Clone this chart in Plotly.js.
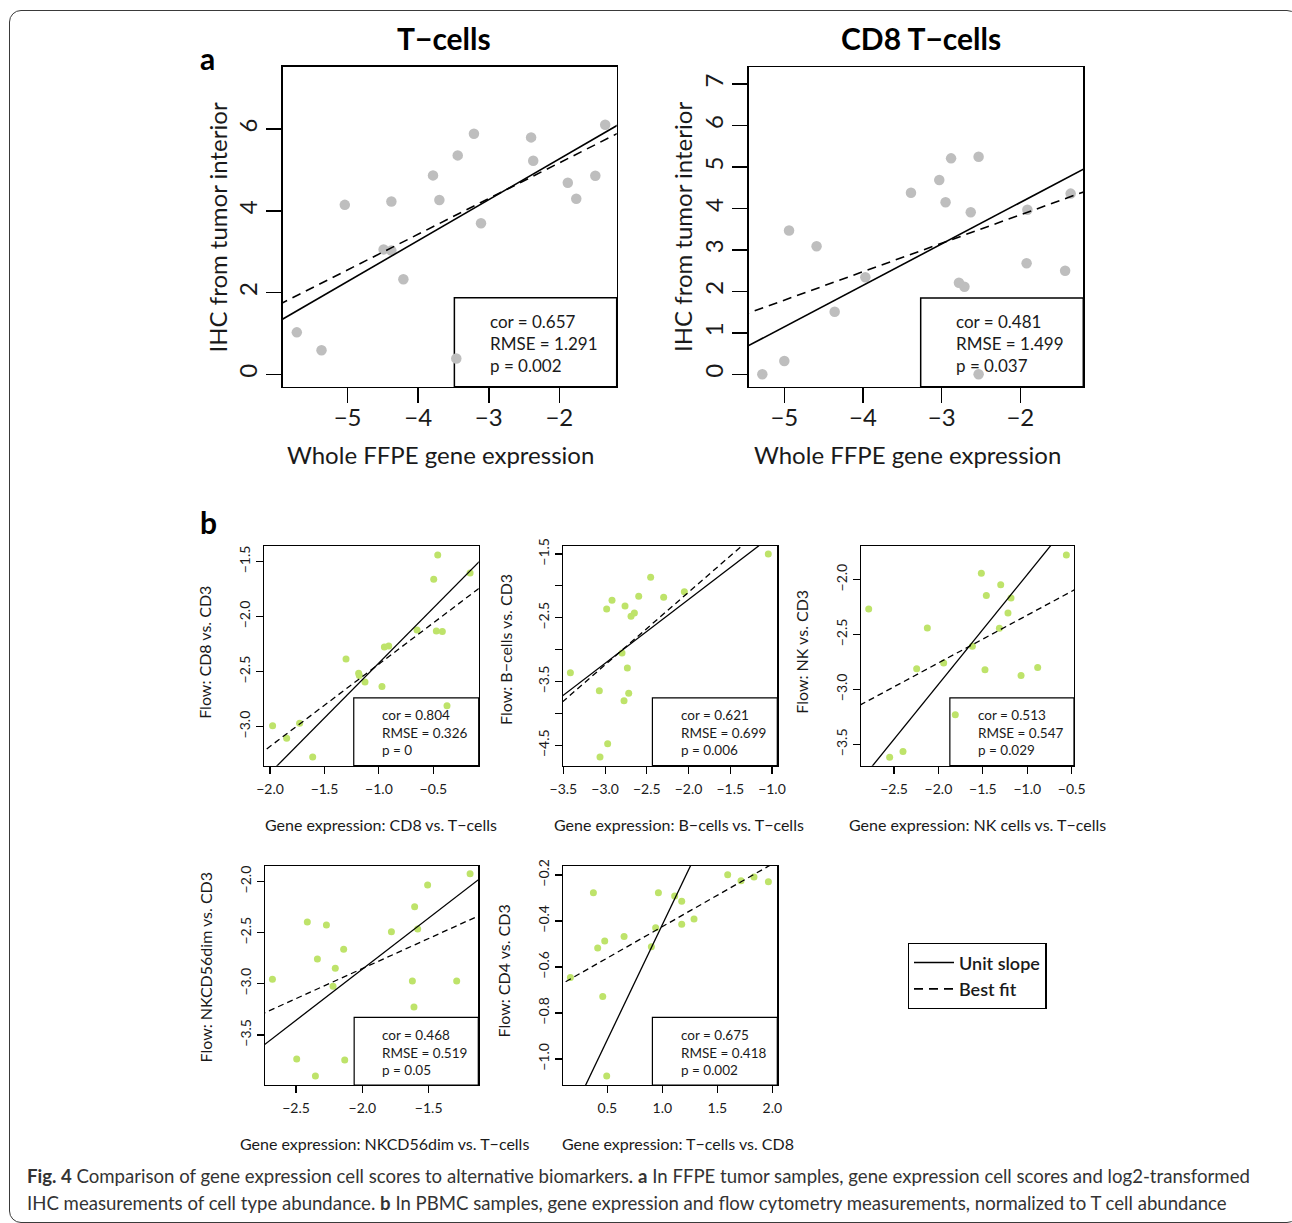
<!DOCTYPE html>
<html><head><meta charset="utf-8">
<script src="https://cdn.plot.ly/plotly-3.0.1.min.js"></script>
<style>
html,body{margin:0;padding:0;background:#fff;overflow:hidden;}
#wrap{position:relative;width:1292px;height:1223px;}
#chart{position:absolute;left:0;top:0;width:1292px;height:1223px;}
#frame{position:absolute;left:9px;top:10px;width:1290px;height:1213px;border:1.5px solid #3a3a3a;border-radius:12px;box-sizing:border-box;pointer-events:none;}
</style></head><body>
<div id="wrap"><div id="chart"></div><div id="frame"></div></div>
<script>
// ---------- data ----------
// a: T-cells
const tcellsGeneX = [-5.72,-5.37,-5.04,-4.49,-4.38,-4.38,-4.21,-3.79,-3.70,-3.44,-3.46,-3.21,-3.11,-2.40,-2.37,-1.88,-1.76,-1.49,-1.35];
const tcellsIhcY  = [1.03,0.59,4.15,3.06,3.03,4.23,2.33,4.87,4.27,5.36,0.39,5.89,3.70,5.80,5.23,4.69,4.30,4.86,6.11];
// a: CD8 T-cells
const cd8GeneX = [-5.28,-5.00,-4.94,-4.59,-4.36,-3.97,-3.39,-3.03,-2.95,-2.88,-2.78,-2.71,-2.63,-2.53,-2.53,-1.92,-1.91,-1.43,-1.36];
const cd8IhcY  = [0.00,0.32,3.47,3.09,1.51,2.34,4.38,4.69,4.15,5.21,2.21,2.11,3.91,5.25,0.00,2.68,3.97,2.50,4.36];
// b: CD8 vs T-cells
const cd8FlowGeneX = [-1.976,-1.847,-1.728,-1.608,-1.302,-1.186,-1.180,-1.128,-0.972,-0.950,-0.910,-0.650,-0.497,-0.460,-0.473,-0.418,-0.375,-0.163];
const cd8FlowY     = [-2.991,-3.106,-2.970,-3.276,-2.385,-2.515,-2.536,-2.594,-2.636,-2.276,-2.267,-2.121,-1.661,-1.439,-2.130,-2.136,-2.809,-1.603];
// b: B-cells vs T-cells
const bcellGeneX = [-3.416,-3.069,-3.061,-2.981,-2.969,-2.917,-2.797,-2.773,-2.761,-2.733,-2.717,-2.689,-2.649,-2.597,-2.454,-2.298,-2.050,-1.044];
const bcellFlowY = [-3.361,-3.643,-4.683,-2.363,-4.474,-2.227,-3.053,-3.800,-2.315,-3.288,-3.685,-2.478,-2.425,-2.164,-1.866,-2.180,-2.091,-1.500];
// b: NK cells vs T-cells
const nkGeneX = [-2.785,-2.549,-2.399,-2.245,-2.125,-1.941,-1.810,-1.618,-1.517,-1.476,-1.461,-1.299,-1.314,-1.217,-1.183,-1.070,-0.883,-0.560];
const nkFlowY = [-2.267,-3.616,-3.564,-2.811,-2.440,-2.759,-3.230,-2.607,-1.942,-2.820,-2.143,-2.046,-2.443,-2.304,-2.167,-2.872,-2.799,-1.775];
// b: NKCD56dim vs T-cells
const nkdimGeneX = [-2.678,-2.495,-2.415,-2.354,-2.339,-2.271,-2.204,-2.221,-2.141,-2.133,-1.781,-1.623,-1.611,-1.606,-1.583,-1.508,-1.289,-1.188];
const nkdimFlowY = [-2.955,-3.735,-2.395,-3.901,-2.756,-2.424,-2.848,-3.024,-2.662,-3.744,-2.489,-2.972,-3.226,-2.245,-2.463,-2.033,-2.972,-1.922];
// b: T-cells vs CD8 (CD4 flow)
const cd4GeneX = [0.164,0.373,0.412,0.458,0.476,0.494,0.652,0.900,0.939,0.964,1.112,1.176,1.176,1.288,1.594,1.715,1.833,1.964];
const cd4FlowY = [-0.646,-0.277,-0.517,-0.728,-0.487,-1.074,-0.468,-0.512,-0.429,-0.277,-0.291,-0.314,-0.414,-0.391,-0.199,-0.225,-0.209,-0.229];

// line parameters (unit slope: y = x + b ; best fit: y = m x + c)
const unitIntercepts = [7.275, 6.145, -1.421, -0.214, -0.953, -0.856, -1.416];
const fitSlopes      = [0.873, 0.686, 0.749, 1.138, 0.435, 0.588, 0.2725];
const fitIntercepts  = [6.923, 5.219, -1.682, 0.176, -1.888, -1.674, -0.697];

// statistics shown in each panel
const corVals  = ["0.657","0.481","0.804","0.621","0.513","0.468","0.675"];
const rmseVals = ["1.291","1.499","0.326","0.699","0.547","0.519","0.418"];
const pVals    = ["0.002","0.037","0","0.006","0.029","0.05","0.002"];

// texts
const panelTitles = ["T\u2212cells", "CD8 T\u2212cells"];
const xTitles = ["Whole FFPE gene expression","Whole FFPE gene expression",
  "Gene expression: CD8 vs. T\u2212cells","Gene expression: B\u2212cells vs. T\u2212cells",
  "Gene expression: NK cells vs. T\u2212cells","Gene expression: NKCD56dim vs. T\u2212cells",
  "Gene expression: T\u2212cells vs. CD8"];
const yTitles = ["IHC from tumor interior","IHC from tumor interior",
  "Flow: CD8 vs. CD3","Flow: B\u2212cells vs. CD3","Flow: NK vs. CD3",
  "Flow: NKCD56dim vs. CD3","Flow: CD4 vs. CD3"];
const bcellYTickVals = [-1.5,-2,-2.5,-3,-3.5,-4,-4.5];
const bcellYTickText = ["\u22121.5","","\u22122.5","","\u22123.5","","\u22124.5"];
const legendNames = ["Unit slope","Best fit"];

const xs = [tcellsGeneX, cd8GeneX, cd8FlowGeneX, bcellGeneX, nkGeneX, nkdimGeneX, cd4GeneX];
const ys = [tcellsIhcY, cd8IhcY, cd8FlowY, bcellFlowY, nkFlowY, nkdimFlowY, cd4FlowY];

// ---------- layout geometry ----------
const W = 1292, H = 1223;
const FONT = "Lato, 'Open Sans', sans-serif";
const TXT = "#1a1a1a";
const panels = [
  {box:[282.7,66.7,616.7,386.7], xr:[-5.92,-1.187], yr:[-0.30,7.53], xd:1, yd:2, big:true,
   xt:[440.8,454], yt:[216.5,228]},
  {box:[748.7,67.2,1083.3,386.7], xr:[-5.453,-1.199], yr:[-0.30,7.41], xd:1, yd:1, big:true,
   xt:[907.5,454], yt:[682.5,227.5]},
  {box:[264,546,478.7,765.7], xr:[-2.055,-0.084], yr:[-3.355,-1.358], xd:0.5, yd:0.5,
   xt:[380.5,824], yt:[205,652.8]},
  {box:[562.7,546,777.3,765.7], xr:[-3.508,-0.936], yr:[-4.819,-1.375], xd:0.5, yd:0.5,
   xt:[678.7,824], yt:[505,650], yvals:bcellYTickVals, ytext:bcellYTickText},
  {box:[860.7,546,1074,765.7], xr:[-2.875,-0.474], yr:[-3.694,-1.693], xd:0.5, yd:0.5,
   xt:[977.5,824], yt:[802,651.7]},
  {box:[265,866,478.3,1085], xr:[-2.734,-1.126], yr:[-3.989,-1.847], xd:0.5, yd:0.5,
   xt:[384,1143], yt:[205,967.5]},
  {box:[562.7,866,777.3,1085], xr:[0.094,2.045], yr:[-1.113,-0.161], xd:0.5, yd:0.2,
   xt:[678.3,1143], yt:[503.7,970.8]}
];

const px = v => v / W;
const py = v => 1 - v / H;

const layout = {
  width: W, height: H, margin:{l:0,r:0,t:0,b:0},
  paper_bgcolor:"rgba(0,0,0,0)", plot_bgcolor:"rgba(0,0,0,0)",
  font:{family:FONT, color:TXT},
  showlegend:true,
  legend:{x:px(907.7), y:py(943), xanchor:"left", yanchor:"top",
    bordercolor:"#000", borderwidth:1.3, bgcolor:"#fff",
    font:{family:FONT, size:18, color:TXT, weight:600}, itemwidth:40, tracegroupgap:0},
  annotations:[], shapes:[]
};
const traces = [];

panels.forEach((p, i) => {
  const n = i + 1;
  const xa = "xaxis" + (n === 1 ? "" : n), ya = "yaxis" + (n === 1 ? "" : n);
  const xr = "x" + (n === 1 ? "" : n), yr = "y" + (n === 1 ? "" : n);
  const big = !!p.big;
  const common = {
    showline:true, mirror:true, linecolor:"#000", linewidth: big ? 1.5 : 1.2,
    ticks:"outside", ticklen: big ? 15 : 7, tickwidth: big ? 1.5 : 1.1, tickcolor:"#000",
    showgrid:false, zeroline:false, fixedrange:true,
    tickfont:{family:FONT, size: big ? 24 : 14, color:TXT}
  };
  layout[xa] = Object.assign({}, common, {
    domain:[px(p.box[0]), px(p.box[2])], range:p.xr, anchor:yr,
    tickmode:"linear", tick0:0, dtick:p.xd, tickformat: big ? "d" : ".1f",
    ticklabelstandoff: big ? -6 : 3
  });
  layout[ya] = Object.assign({}, common, {
    domain:[py(p.box[3]), py(p.box[1])], range:p.yr, anchor:xr, tickangle:-90,
    tickformat: big ? "d" : ".1f"
  }, p.yvals ? {tickmode:"array", tickvals:p.yvals, ticktext:p.ytext}
             : {tickmode:"linear", tick0:0, dtick:p.yd});

  // points
  traces.push({type:"scatter", mode:"markers", x:xs[i], y:ys[i], xaxis:xr, yaxis:yr,
    marker:{size: big ? 10.5 : 7, color: big ? "#BEBEBE" : "#BEE36A", line:{width:0}},
    showlegend:false, hoverinfo:"skip"});
  // unit slope and best-fit lines across the axis range
  const lx = [p.xr[0] - 1, p.xr[1] + 1];
  traces.push({type:"scatter", mode:"lines", x:lx, y:lx.map(v => v + unitIntercepts[i]),
    xaxis:xr, yaxis:yr, line:{color:"#000", width: big ? 1.6 : 1.3},
    name:legendNames[0], showlegend: i === 0, legendrank:1, hoverinfo:"skip"});
  traces.push({type:"scatter", mode:"lines", x:lx, y:lx.map(v => fitSlopes[i]*v + fitIntercepts[i]),
    xaxis:xr, yaxis:yr, line:{color:"#000", width: big ? 1.6 : 1.3, dash: big ? "9px,6px" : "6px,4px"},
    name:legendNames[1], showlegend: i === 0, legendrank:2, hoverinfo:"skip"});

  // stats box
  const bx0 = big ? 0.514 : 0.418, by1 = big ? 0.278 : 0.309;
  layout.shapes.push({type:"rect", xref:xr + " domain", yref:yr + " domain",
    x0:bx0, x1:1, y0:0, y1:by1, line:{color:"#000", width: big ? 1.5 : 1.2}, layer:"below"});
  layout.annotations.push({xref:xr + " domain", yref:yr + " domain",
    x: big ? 0.614 : 0.54, y: big ? 0.136 : 0.150, xanchor:"left", yanchor:"middle", align:"left",
    showarrow:false, font:{family:FONT, size: big ? 17 : 13.5, color:TXT},
    text:"cor = " + corVals[i] + "<br>RMSE = " + rmseVals[i] + "<br>p = " + pVals[i]});

  // axis titles
  layout.annotations.push({xref:"paper", yref:"paper", x:px(p.xt[0]), y:py(p.xt[1]),
    xanchor:"center", yanchor:"middle", showarrow:false, text:xTitles[i],
    font:{family:FONT, size: big ? 24 : 16, color:TXT}});
  layout.annotations.push({xref:"paper", yref:"paper", x:px(p.yt[0]), y:py(p.yt[1]),
    xanchor:"center", yanchor:"middle", showarrow:false, text:yTitles[i], textangle:-90,
    font:{family:FONT, size: big ? 24 : 16, color:TXT}});
});

// panel titles and letters
const mid = {xanchor:"center", yanchor:"middle", showarrow:false, xref:"paper", yref:"paper"};
layout.annotations.push(Object.assign({x:px(444), y:py(38),
  text:"<b>" + panelTitles[0] + "</b>", font:{family:FONT, size:30, color:"#000"}}, mid));
layout.annotations.push(Object.assign({x:px(920.8), y:py(38),
  text:"<b>" + panelTitles[1] + "</b>", font:{family:FONT, size:30, color:"#000"}}, mid));
layout.annotations.push(Object.assign({x:px(207.5), y:py(58),
  text:"<b>a</b>", font:{family:FONT, size:30, color:"#000"}}, mid));
layout.annotations.push(Object.assign({x:px(208), y:py(522),
  text:"<b>b</b>", font:{family:FONT, size:30, color:"#000"}}, mid));

// caption
const CAP = "Lato, sans-serif";
layout.annotations.push({xref:"paper", yref:"paper", x:px(25), y:py(1176), xanchor:"left", yanchor:"middle",
  showarrow:false, font:{family:CAP, size:18.6, color:"#333"},
  text:"<b>Fig. 4</b> Comparison of gene expression cell scores to alternative biomarkers. <b>a</b> In FFPE tumor samples, gene expression cell scores and log2-transformed"});
layout.annotations.push({xref:"paper", yref:"paper", x:px(25), y:py(1203), xanchor:"left", yanchor:"middle",
  showarrow:false, font:{family:CAP, size:18.6, color:"#333"},
  text:"IHC measurements of cell type abundance. <b>b</b> In PBMC samples, gene expression and flow cytometry measurements, normalized to T cell abundance"});

Plotly.newPlot("chart", traces, layout, {staticPlot:true, displayModeBar:false});
</script>
</body></html>
